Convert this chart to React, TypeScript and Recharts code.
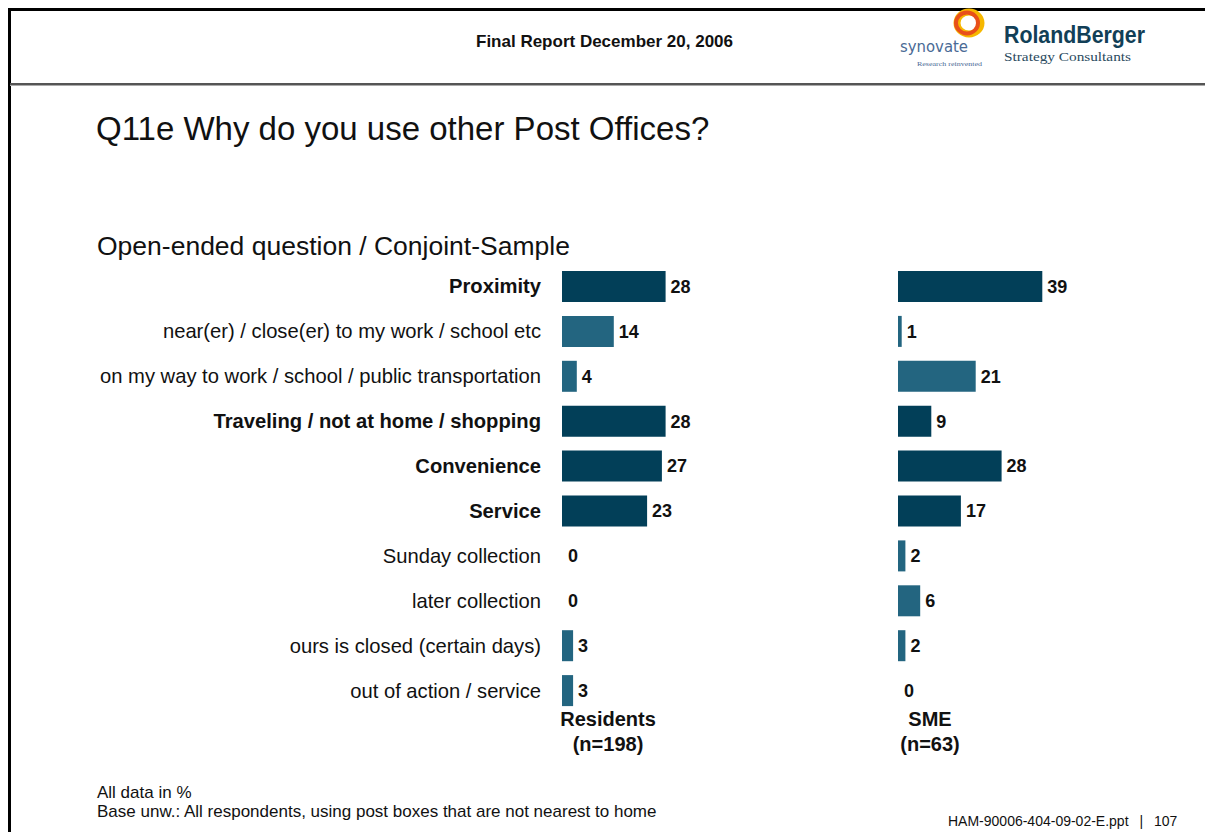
import React from 'react';
import { BarChart, Bar, XAxis, YAxis, Cell, LabelList } from 'recharts';

const categories = [
  'Proximity',
  'near(er) / close(er) to my work / school etc',
  'on my way to work / school / public transportation',
  'Traveling / not at home / shopping',
  'Convenience',
  'Service',
  'Sunday collection',
  'later collection',
  'ours is closed (certain days)',
  'out of action / service',
];
const isMain = [true, false, false, true, true, true, false, false, false, false];
const residents = [28, 14, 4, 28, 27, 23, 0, 0, 3, 3];
const sme = [39, 1, 21, 9, 28, 17, 2, 6, 2, 0];

const DARK = '#023f58';
const LIGHT = '#236580';
const FONT = '"Liberation Sans", Arial, sans-serif';

const data = categories.map((name, i) => ({
  name,
  main: isMain[i],
  residents: residents[i],
  sme: sme[i],
}));

const barColor = (main: boolean, v: number) => (v === 0 ? 'transparent' : main ? DARK : LIGHT);

const CategoryTick = (props: any) => {
  const { x, y, payload, index } = props;
  const bold = isMain[index];
  return (
    <text
      x={x}
      y={y}
      dy={7}
      textAnchor="end"
      fontFamily={FONT}
      fontSize={20.2}
      fontWeight={bold ? 700 : 400}
      fill="#111"
    >
      {payload.value}
    </text>
  );
};

const abs = (left: number, top: number, extra: React.CSSProperties = {}): React.CSSProperties => ({
  position: 'absolute',
  left,
  top,
  fontFamily: FONT,
  color: '#111',
  whiteSpace: 'nowrap',
  ...extra,
});

const valueStyle = { fontFamily: FONT, fontSize: 18, fontWeight: 700, fill: '#111' };

export default function App() {
  const plotH = 449;
  const chartTop = 264;

  return (
    <div style={{ position: 'absolute', left: 0, top: 0, width: 1205, height: 832, background: '#fff', overflow: 'hidden' }}>
      {/* frame */}
      <div style={{ position: 'absolute', left: 8, top: 8, width: 1197, height: 3, background: '#000' }} />
      <div style={{ position: 'absolute', left: 8, top: 8, width: 3, height: 824, background: '#000' }} />
      <div style={{ position: 'absolute', left: 10, top: 83, width: 1195, height: 2, background: '#555' }} />
      <div style={{ position: 'absolute', left: 10, top: 85, width: 1195, height: 1, background: '#aaa' }} />

      {/* header */}
      <div style={abs(476, 32, { fontSize: 17, fontWeight: 700 })}>Final Report December 20, 2006</div>
      <svg style={{ position: 'absolute', left: 890, top: 8 }} width={315} height={70}>
        <ellipse cx={79} cy={15} rx={12} ry={11} fill="none" stroke="#f6b800" strokeWidth={7} />
        <ellipse cx={77} cy={15} rx={11} ry={10.5} fill="none" stroke="#e8501a" strokeWidth={4} />
        <text x={10} y={44} textLength={68} lengthAdjust="spacingAndGlyphs" fontFamily='"DejaVu Sans", sans-serif' fontSize={15} fill="#4a6a95">synovate</text>
        <text x={27} y={58} textLength={65} lengthAdjust="spacingAndGlyphs" fontFamily='"Liberation Serif", serif' fontSize={7} fill="#4a6a95">Research reinvented</text>
        <text x={114} y={35} textLength={141} lengthAdjust="spacingAndGlyphs" fontFamily={FONT} fontSize={24} fontWeight={700} fill="#123f57">RolandBerger</text>
        <text x={114} y={53} textLength={127} lengthAdjust="spacingAndGlyphs" fontFamily='"Liberation Serif", serif' fontSize={13} fill="#2a4a60">Strategy Consultants</text>
      </svg>

      {/* titles */}
      <div style={abs(96, 110, { fontSize: 33 })}>Q11e Why do you use other Post Offices?</div>
      <div style={abs(97, 231, { fontSize: 26.5 })}>Open-ended question / Conjoint-Sample</div>

      {/* Residents */}
      <div style={{ position: 'absolute', left: 40, top: chartTop }}>
        <BarChart
          width={720}
          height={plotH}
          data={data}
          layout="vertical"
          barSize={31}
          margin={{ top: 0, right: 50, bottom: 0, left: 0 }}
        >
          <XAxis type="number" domain={[0, 40]} hide />
          <YAxis
            type="category"
            dataKey="name"
            width={522}
            axisLine={false}
            tickLine={false}
            tickSize={0}
            tickMargin={21}
            interval={0}
            tick={<CategoryTick />}
          />
          <Bar dataKey="residents" minPointSize={1} isAnimationActive={false}>
            {data.map((d, i) => (
              <Cell key={i} fill={barColor(d.main, d.residents)} />
            ))}
            <LabelList dataKey="residents" position="right" offset={5} style={valueStyle} />
          </Bar>
        </BarChart>
      </div>
      <div style={abs(558, 707, { fontSize: 20, fontWeight: 700, textAlign: 'center', width: 100, lineHeight: '25px' })}>
        Residents
        <br />
        (n=198)
      </div>

      {/* SME */}
      <div style={{ position: 'absolute', left: 898, top: chartTop }}>
        <BarChart
          width={198}
          height={plotH}
          data={data}
          layout="vertical"
          barSize={31}
          margin={{ top: 0, right: 50, bottom: 0, left: 0 }}
        >
          <XAxis type="number" domain={[0, 40]} hide />
          <YAxis type="category" dataKey="name" hide width={0} />
          <Bar dataKey="sme" minPointSize={1} isAnimationActive={false}>
            {data.map((d, i) => (
              <Cell key={i} fill={barColor(d.main, d.sme)} />
            ))}
            <LabelList dataKey="sme" position="right" offset={5} style={valueStyle} />
          </Bar>
        </BarChart>
      </div>
      <div style={abs(880, 707, { fontSize: 20, fontWeight: 700, textAlign: 'center', width: 100, lineHeight: '25px' })}>
        SME
        <br />
        (n=63)
      </div>

      {/* footer */}
      <div style={abs(97, 783, { fontSize: 17, lineHeight: '19px' })}>
        All data in %
        <br />
        Base unw.: All respondents, using post boxes that are not nearest to home
      </div>
      <div style={abs(948, 813, { fontSize: 14 })}>
        HAM-90006-404-09-02-E.ppt <span style={{ margin: '0 7px' }}>|</span> 107
      </div>
    </div>
  );
}
